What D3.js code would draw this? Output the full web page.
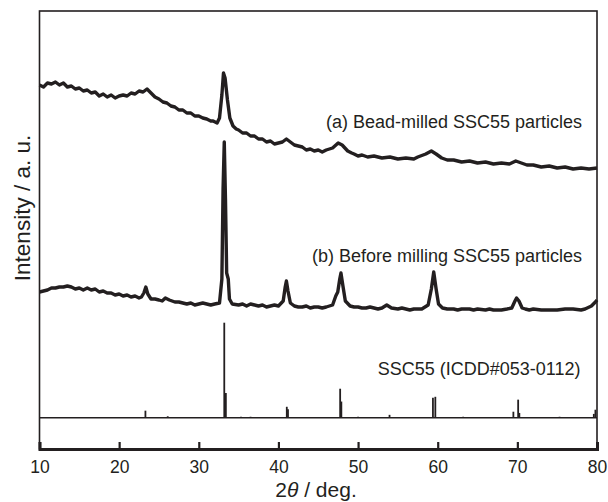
<!DOCTYPE html>
<head>
  <meta charset="utf-8">
  <script src="https://d3js.org/d3.v7.min.js"></script>
  <style>
    body { margin:0; background:#fff; }
    text { font-family: "Liberation Sans", Arial, sans-serif; fill:#231f20; }
  </style>
</head>
<body>
<script>
  // XRD patterns, 2theta (deg) vs intensity (a.u., stacked)
  var beadMilled = [
    [10,364],[10.5,362],[11,366],[11.5,365],[12,367],[12.5,364],[13,366],[13.5,362],[14,363],[14.5,360],
    [15,361],[15.5,358],[16,359],[16.5,356],[17,357],[17.5,353],[18,355],[18.5,352],[19,354],[19.5,351],
    [20,353],[20.5,354],[21,353],[21.5,356],[22,355],[22.5,358],[23,357],[23.5,360],[24,356],[24.5,352],
    [25,350],[25.5,347],[26,346],[26.5,343],[27,342],[27.5,339],[28,339],[28.5,336],[29,336],[29.5,333],
    [30,333],[30.5,331],[31,330],[31.5,328],[31.8,328],[32.3,326],[32.6,331],[32.9,354],[33.1,376],
    [33.3,371],[33.6,349],[33.9,331],[34.3,323],[34.7,320],[35,319],[35.5,316],[36,316],[36.5,313],
    [37,313],[37.5,310],[38,310],[38.5,307],[39,308],[39.5,305],[40,306],[40.5,307],[41,310],[41.5,307],
    [42,304],[42.5,303],[43,302],[43.5,299],[44,300],[44.5,298],[45,299],[45.5,297],[46,299],[46.8,301],
    [47.5,306],[48,304],[48.7,298],[49.2,296],[49.5,295],[50,293],[50.5,294],[51.2,292],[52,293],[53,291],
    [54,292],[55,290],[56,291],[57,290],[57.5,292],[58.5,295],[59.2,298],[59.8,295],[60.5,291],[61.2,289],
    [62,289],[63,287],[64,288],[65,286],[66,287],[67,285],[68,286],[69,285],[69.8,288],[70.5,286],[71.2,284],
    [72,284],[73,282],[74,283],[75,281],[76,282],[77,280],[78,281],[79,280],[80,281]
  ];

  var beforeMilling = [
    [10,157],[10.5,158],[11,159],[11.5,161],[12,161],[12.5,162],[13,162],[13.5,163],[14,162],[14.5,160],
    [15,161],[15.5,159],[16,161],[16.5,159],[17,160],[17.5,157],[18,158],[18.5,156],[19,156],[19.5,154],
    [20,155],[20.5,153],[21,154],[21.5,152],[22,153],[22.5,151],[22.8,152],[23.1,156],[23.35,162],
    [23.6,155],[24,150],[24.5,150],[25,149],[25.4,148],[25.8,151],[26.3,149],[27,147],[27.5,147],[28,146],
    [28.5,145],[29,146],[29.5,144],[30,145],[30.5,146],[31,145],[31.5,144],[32,145],[32.6,146],[32.9,170],
    [33.05,260],[33.2,307],[33.35,250],[33.5,176],[33.7,170],[33.85,150],[34.2,145],[35,144],[35.5,145],
    [36,143],[36.5,145],[37,144],[37.5,143],[38,144],[38.5,142],[39,143],[39.5,144],[40,143],[40.6,148],
    [40.85,162],[41.0,168],[41.2,158],[41.5,146],[42,143],[42.5,142],[43,142],[43.5,143],[44,141],
    [44.5,142],[45,142],[45.5,141],[46,142],[46.8,144],[47.2,153],[47.45,157],[47.7,170],[47.85,176],
    [48.1,163],[48.4,148],[49,143],[49.5,142],[50,142],[50.5,141],[51,141],[51.5,142],[52,141],[52.5,140],
    [53,141],[53.6,144],[54.2,141],[55,140],[55.5,141],[56,140],[56.5,139],[57,140],[57.5,140],[58,140],
    [58.8,144],[59.2,160],[59.5,177],[59.8,160],[60.1,145],[60.6,141],[61.2,140],[62,140],[62.5,139],
    [63,140],[64,140],[64.5,139],[65,140],[66,139],[66.5,140],[67,139],[68,139],[68.7,140],[69.3,141],
    [69.7,148],[69.9,151],[70.2,148],[70.6,141],[71,140],[71.5,139],[72,140],[73,139],[74,139],[75,139],
    [76,140],[77,140],[78,139],[78.5,140],[79.3,143],[79.8,147],[80,149]
  ];

  // reference pattern SSC55 (ICDD#053-0112): 2theta, relative intensity
  var refPos = [23.3, 26.1, 33.2, 33.4, 35.3, 36.5, 41.05, 41.2, 47.75, 47.9, 50.0, 53.95, 59.4, 59.7, 63.2, 69.5, 70.1, 70.25, 75.3, 79.6, 79.8];
  var refInt = [7.4, 1.5, 100, 26, 1, 1, 11.5, 9, 30.5, 17, 1, 3, 21, 22, 1, 6.3, 19, 5, 1, 4, 8.4];
  var refBase = 31.3;   // offset of the reference pattern
  var refFactor = 0.95; // relative intensity -> a.u.

  var xTicks = [10, 20, 30, 40, 50, 60, 70, 80];

  var labels = [
    {text: "(a) Bead-milled SSC55 particles", x: 80, y: 321},
    {text: "(b) Before milling SSC55 particles", x: 80, y: 187},
    {text: "SSC55 (ICDD#053-0112)", x: 79.8, y: 74}
  ];

  var width = 608, height = 502;
  var margin = {left: 39.5, right: 11, top: 11, bottom: 53};

  var svg = d3.select("body").append("svg")
    .attr("width", width)
    .attr("height", height);

  var x = d3.scaleLinear().domain([10, 80]).range([margin.left, width - margin.right]);
  var y = d3.scaleLinear().domain([0, 438]).range([height - margin.bottom, margin.top]);

  var line = d3.line()
    .x(function(d) { return x(d[0]); })
    .y(function(d) { return y(d[1]); });

  var plot = svg.append("g");

  [beadMilled, beforeMilling].forEach(function(s) {
    plot.append("path")
      .datum(s)
      .attr("d", line)
      .attr("fill", "none")
      .attr("stroke", "#231f20")
      .attr("stroke-width", 3.4)
      .attr("stroke-linejoin", "round");
  });

  // reference pattern baseline and sticks
  plot.append("line")
    .attr("x1", x(10)).attr("x2", x(80))
    .attr("y1", y(refBase)).attr("y2", y(refBase))
    .attr("stroke", "#231f20").attr("stroke-width", 1.5);

  plot.selectAll(".stick")
    .data(refPos)
    .enter().append("line")
    .attr("class", "stick")
    .attr("x1", function(d) { return x(d); })
    .attr("x2", function(d) { return x(d); })
    .attr("y1", y(refBase))
    .attr("y2", function(d, i) { return y(refBase + refInt[i] * refFactor); })
    .attr("stroke", "#231f20")
    .attr("stroke-width", 1.8);

  // frame
  svg.append("rect")
    .attr("x", x(10)).attr("y", y(438))
    .attr("width", x(80) - x(10)).attr("height", y(0) - y(438))
    .attr("fill", "none").attr("stroke", "#231f20").attr("stroke-width", 1.6);

  var xAxis = d3.axisBottom(x).tickValues(xTicks).tickSize(-7).tickPadding(12).tickFormat(d3.format("d"));
  var gx = svg.append("g")
    .attr("transform", "translate(0," + y(0) + ")")
    .call(xAxis);
  gx.select(".domain").attr("stroke", "#231f20").attr("stroke-width", 3);
  gx.selectAll(".tick line").attr("stroke", "#231f20").attr("stroke-width", 2.2);
  gx.selectAll(".tick text").attr("font-size", 17.5).attr("font-family", "Liberation Sans, Arial, sans-serif").attr("fill", "#231f20");

  svg.selectAll(".lbl")
    .data(labels)
    .enter().append("text")
    .attr("class", "lbl")
    .attr("x", function(d) { return x(d.x) - 15; })
    .attr("y", function(d) { return y(d.y); })
    .attr("text-anchor", "end")
    .attr("font-size", 18)
    .text(function(d) { return d.text; });

  svg.append("text")
    .attr("transform", "translate(29.5,208) rotate(-90)")
    .attr("text-anchor", "middle")
    .attr("font-size", 22.5)
    .text("Intensity / a. u.");

  var xl = svg.append("text")
    .attr("x", 316).attr("y", 497)
    .attr("text-anchor", "middle")
    .attr("font-size", 21);
  xl.append("tspan").text("2");
  xl.append("tspan").attr("font-style", "italic").text("θ");
  xl.append("tspan").text(" / deg.");
</script>
</body>
